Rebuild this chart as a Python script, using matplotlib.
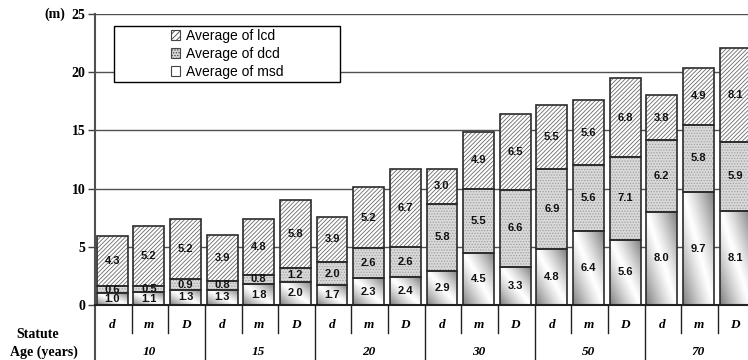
import matplotlib.pyplot as plt
import matplotlib.transforms as mtransforms
from matplotlib.patches import Patch, Rectangle
import numpy as np

plt.rcParams['hatch.linewidth'] = 0.6

# data
ages = ['10', '15', '20', '30', '50', '70']
statute = ['d', 'm', 'D'] * 6
msd = [1.0, 1.1, 1.3, 1.3, 1.8, 2.0, 1.7, 2.3, 2.4, 2.9, 4.5, 3.3, 4.8, 6.4, 5.6, 8.0, 9.7, 8.1]
dcd = [0.6, 0.5, 0.9, 0.8, 0.8, 1.2, 2.0, 2.6, 2.6, 5.8, 5.5, 6.6, 6.9, 5.6, 7.1, 6.2, 5.8, 5.9]
lcd = [4.3, 5.2, 5.2, 3.9, 4.8, 5.8, 3.9, 5.2, 6.7, 3.0, 4.9, 6.5, 5.5, 5.6, 6.8, 3.8, 4.9, 8.1]
yticks = [0, 5, 10, 15, 20, 25]

W, H = 748, 360
fig = plt.figure(figsize=(W / 100, H / 100), dpi=100)
ax = fig.add_axes([95 / W, 55 / H, (754.5 - 95) / W, 291 / H])

x = np.arange(len(msd))
msd = np.array(msd)
dcd = np.array(dcd)
lcd = np.array(lcd)
bw = 0.84
edge = '#2b2b2b'
serif = 'Liberation Serif'
sans = 'Liberation Sans'

for yv in yticks[1:]:
    ax.axhline(yv, color='#505050', lw=1.0, zorder=0)

# msd: white with diagonal gradient
bars_msd = ax.bar(x, msd, bw, color='none', edgecolor=edge, lw=1.2, zorder=3)
gx, gy = np.meshgrid(np.linspace(0, 1, 30), np.linspace(0, 1, 60))
shade = 1 - 0.5 * np.clip(np.abs(gx + gy - 1), 0, 1) ** 1.2
img = np.dstack([shade, shade, shade])
for b in bars_msd:
    im = ax.imshow(img, extent=[b.get_x(), b.get_x() + b.get_width(), 0, b.get_height()],
                   origin='lower', aspect='auto', zorder=2, interpolation='bilinear')
    im.set_clip_path(b)

# dcd: grey dotted
ax.bar(x, dcd, bw, bottom=msd, color='#d9d9d9', edgecolor='#a0a0a0', hatch='......', lw=0, zorder=2)
ax.bar(x, dcd, bw, bottom=msd, color='none', edgecolor=edge, lw=1.2, zorder=3)

# lcd: white hatched
ax.bar(x, lcd, bw, bottom=msd + dcd, color='white', edgecolor='#6a6a6a', hatch='////////', lw=0, zorder=2)
ax.bar(x, lcd, bw, bottom=msd + dcd, color='none', edgecolor=edge, lw=1.2, zorder=3)

# value labels
for i in x:
    for bot, val in [(0, msd[i]), (msd[i], dcd[i]), (msd[i] + dcd[i], lcd[i])]:
        ax.text(i, bot + val / 2, f'{val:.1f}', ha='center', va='center',
                fontsize=8, fontweight='bold', family=sans, color='#111111', zorder=5)

ax.set_xlim(-0.47, 17.53)
ax.set_ylim(0, 25)
ax.set_yticks(yticks)
ax.set_yticklabels([str(v) for v in yticks], fontfamily=serif, fontweight='bold', fontsize=10)
ax.tick_params(axis='y', length=5, width=1, color='#404040', pad=2)
ax.set_xticks([])
for s in ['top', 'right']:
    ax.spines[s].set_visible(False)
ax.spines['left'].set_color('#505050')
ax.spines['left'].set_linewidth(1.5)
ax.spines['bottom'].set_color('#222222')
ax.spines['bottom'].set_linewidth(1.5)
ax.spines['bottom'].set_zorder(6)

# category table below the axis
trans = mtransforms.blended_transform_factory(ax.transData, ax.transAxes)
for k in range(len(x)):
    xb = k + 0.53
    low = -0.19 if (k + 1) % 3 == 0 else -0.096
    ax.plot([xb, xb], [0, low], transform=trans, color='#222222', lw=1, clip_on=False)
ax.plot([-0.47, -0.47], [0, -0.19], transform=trans, color='#505050', lw=1.5, clip_on=False)
for i in x:
    ax.text(i, -0.069, statute[i], transform=trans, ha='center', va='center',
            fontsize=9.5, fontweight='bold', fontstyle='italic', family=serif)
for g, a in enumerate(ages):
    ax.text(g * 3 + 1, -0.162, a, transform=trans, ha='center', va='center',
            fontsize=9.5, fontweight='bold', fontstyle='italic', family=serif)

fig.text(38 / W, 1 - 334 / H, 'Statute', ha='center', va='center',
         fontsize=10, fontweight='bold', family=serif)
fig.text(44 / W, 1 - 352 / H, 'Age (years)', ha='center', va='center',
         fontsize=10, fontweight='bold', family=serif)
fig.text(55 / W, 1 - 14 / H, '(m)', ha='center', va='center',
         fontsize=10, fontweight='bold', family=serif)

# legend
fig.patches.append(Rectangle((114 / W, 1 - 82 / H), 226 / W, 56 / H, transform=fig.transFigure,
                             facecolor='white', edgecolor='black', lw=1, zorder=10))
handles = [Patch(facecolor='white', edgecolor='#444444', hatch='//////', lw=0.8),
           Patch(facecolor='#d6d6d6', edgecolor='#444444', hatch='......', lw=0.8),
           Patch(facecolor='white', edgecolor='#444444', lw=0.8)]
leg = fig.legend(handles, ['Average of lcd', 'Average of dcd', 'Average of msd'],
                 loc='center', bbox_to_anchor=(227 / W, 1 - 54 / H), frameon=False,
                 prop={'family': sans, 'size': 10}, handlelength=0.7, handleheight=0.7,
                 handletextpad=0.4, labelspacing=0.3, borderpad=0)
leg.set_zorder(11)

fig.savefig('out.png', dpi=100)
